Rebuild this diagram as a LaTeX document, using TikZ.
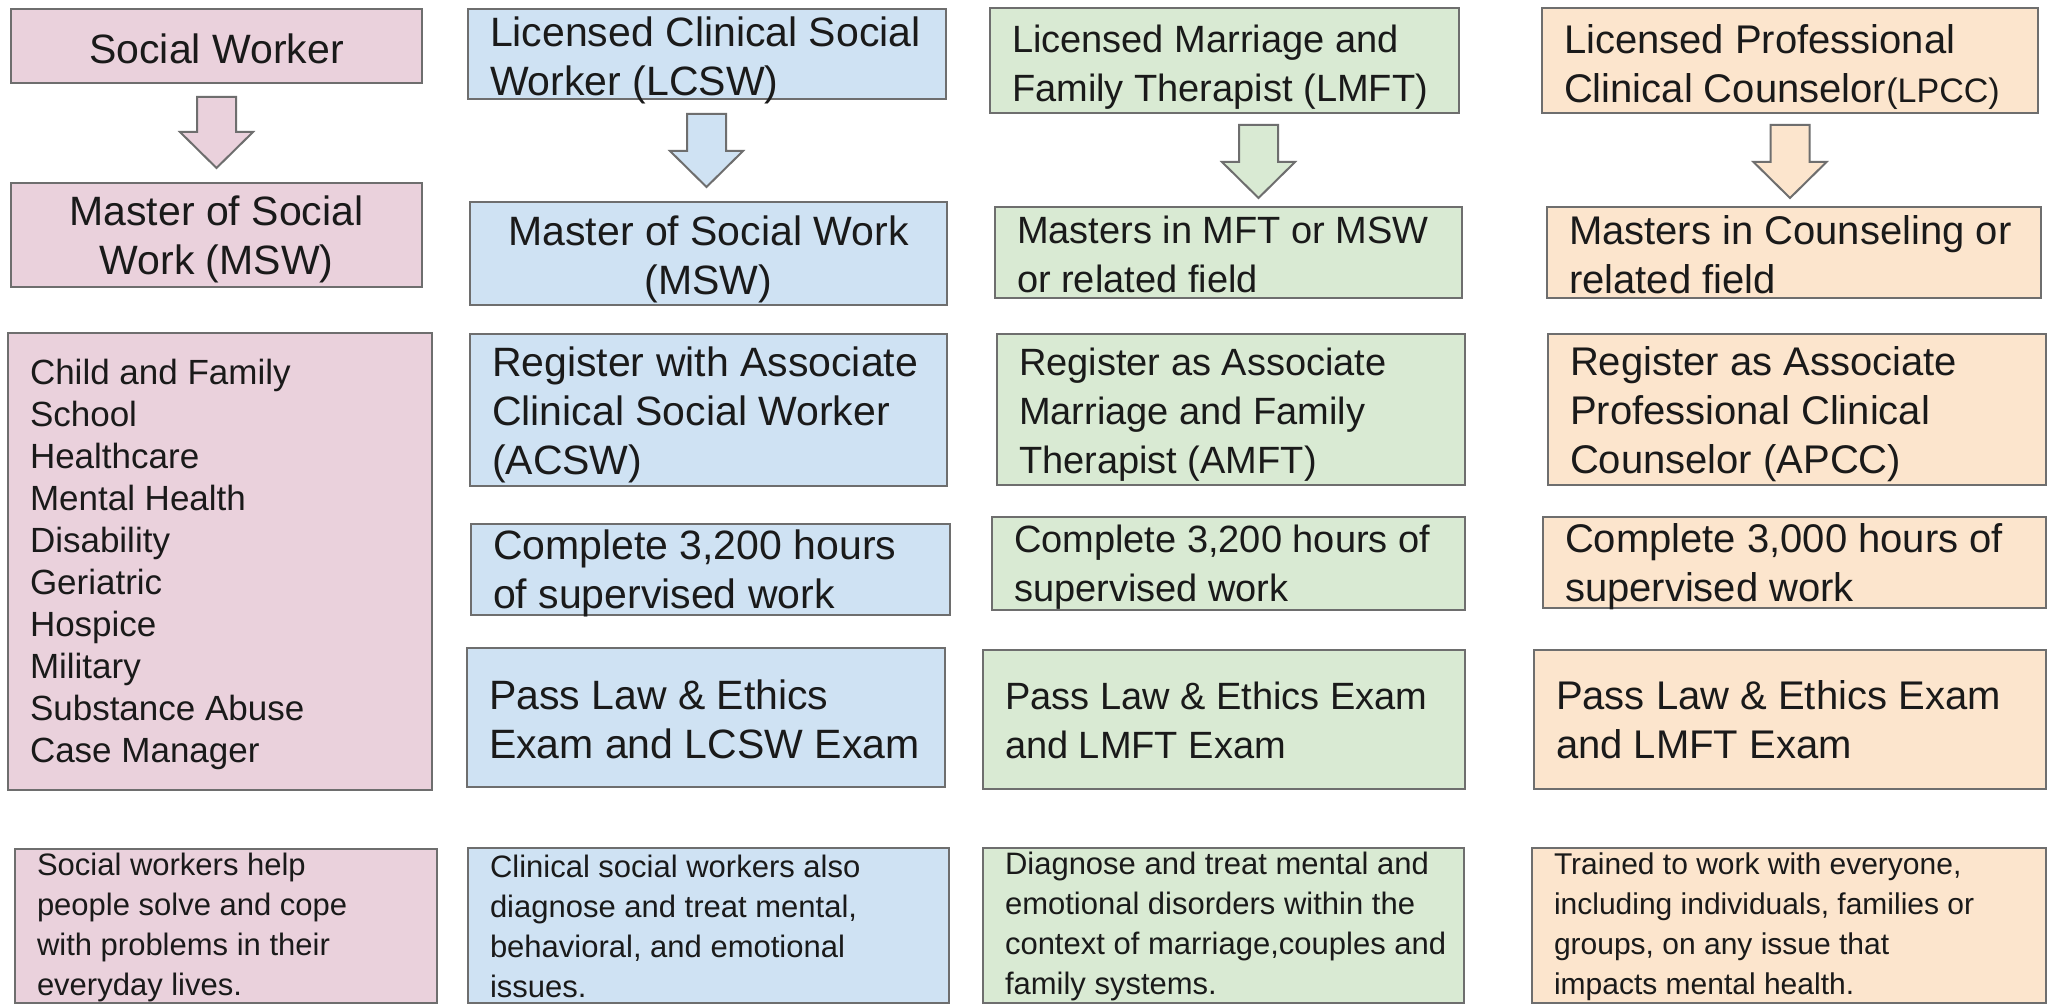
\documentclass[tikz,border=0pt]{standalone}
\usepackage{fontspec}
\setmainfont{Liberation Sans}
\usetikzlibrary{calc}
\newlength\upx \setlength\upx{0.5pt}
\definecolor{pinkfill}{HTML}{EAD1DC}
\definecolor{bluefill}{HTML}{CFE2F3}
\definecolor{greenfill}{HTML}{D9EAD3}
\definecolor{orangefill}{HTML}{FCE5CD}
\definecolor{bordergray}{HTML}{6E6E6E}
\definecolor{txt}{HTML}{1A1A1A}
% [#1 downward shift px] #2 width (px), #3 height (px), #4 text
\newcommand\lefttxt[4][5]{\vbox to #3\upx{\vskip#1\upx\vss\hbox to #2\upx{\vbox{\hsize=3000\upx\raggedright\leftskip=22\upx\parindent=0pt #4\par}\hss}\vss\vskip-#1\upx}}
\newcommand\centtxt[4][5]{\vbox to #3\upx{\vskip#1\upx\vss\hbox to #2\upx{\vbox{\hsize=#2\upx\centering\parindent=0pt #4\par}\hss}\vss\vskip-#1\upx}}
\newcommand\blockarrow[3]{%
  \draw[arrowshape,fill=#3] ($(#1)+(-19.5,0)$) -- ($(#1)+(19.5,0)$) -- ($(#2)+(19.5,-36)$) -- ($(#2)+(36.5,-36)$) -- (#2) -- ($(#2)+(-36.5,-36)$) -- ($(#2)+(-19.5,-36)$) -- cycle;}
\tikzset{
  box/.style={draw=bordergray, line width=1pt, inner sep=0pt, outer sep=0pt, anchor=north west, text=txt},
  arrowshape/.style={draw=bordergray, line width=1pt, line join=miter},
  pinkbox/.style={box, fill=pinkfill, font=\fontsize{20.5}{24.5}\selectfont},
  bluebox/.style={box, fill=bluefill, font=\fontsize{20.5}{24.5}\selectfont},
  greenbox/.style={box, fill=greenfill, font=\fontsize{19}{24.5}\selectfont},
  orangebox/.style={box, fill=orangefill, font=\fontsize{20}{24.5}\selectfont},
  listfont/.style={font=\fontsize{17.5}{21}\selectfont},
  descfont/.style={font=\fontsize{15.5}{20}\selectfont},
}
\begin{document}
\begin{tikzpicture}[x=0.5pt,y=-0.5pt]
\useasboundingbox[fill=white] (0,0) rectangle (2049,1005);

% ---------- Column 1: Social Worker ----------
\node[pinkbox] (p1) at (11,9) {\centtxt[3]{411}{74}{Social Worker}};
\node[pinkbox] (p2) at (11,183) {\centtxt[4]{411}{104}{Master of Social\\Work (MSW)}};
\node[pinkbox, listfont] (p3) at (8,333) {\lefttxt[3]{424}{457}{Child and Family\\School\\Healthcare\\Mental Health\\Disability\\Geriatric\\Hospice\\Military\\Substance Abuse\\Case Manager}};
\node[pinkbox, descfont] (p4) at (15,849) {\lefttxt[1]{422}{154}{Social workers help\\people solve and cope\\with problems in their\\everyday lives.}};

% ---------- Column 2: LCSW ----------
\node[bluebox] (b1) at (468,9) {\lefttxt[6]{478}{90}{Licensed Clinical Social\\Worker (LCSW)}};
\node[bluebox] (b2) at (470,202) {\centtxt[6]{477}{103}{Master of Social Work\\(MSW)}};
\node[bluebox] (b3) at (470,334) {\lefttxt[5]{477}{152}{Register with Associate\\Clinical Social Worker\\(ACSW)}};
\node[bluebox] (b4) at (471,524) {\lefttxt[4]{479}{91}{Complete 3,200 hours\\of supervised work}};
\node[bluebox] (b5) at (467,648) {\lefttxt[2]{478}{139}{Pass Law \& Ethics\\Exam and LCSW Exam}};
\node[bluebox, descfont] (b6) at (468,848) {\lefttxt[1]{481}{155}{Clinical social workers also\\diagnose and treat mental,\\behavioral, and emotional\\issues.}};

% ---------- Column 3: LMFT ----------
\node[greenbox] (g1) at (990,8) {\lefttxt[7]{469}{105}{Licensed Marriage and\\Family Therapist (LMFT)}};
\node[greenbox] (g2) at (995,207) {\lefttxt[2]{467}{91}{Masters in MFT or MSW\\or related field}};
\node[greenbox] (g3) at (997,334) {\lefttxt[5]{468}{151}{Register as Associate\\Marriage and Family\\Therapist (AMFT)}};
\node[greenbox] (g4) at (992,517) {\lefttxt[4]{473}{93}{Complete 3,200 hours of\\supervised work}};
\node[greenbox] (g5) at (983,650) {\lefttxt[1]{482}{139}{Pass Law \& Ethics Exam\\and LMFT Exam}};
\node[greenbox, descfont] (g6) at (983,848) {\lefttxt[1]{481}{155}{Diagnose and treat mental and\\emotional disorders within the\\context of marriage,couples and\\family systems.}};

% ---------- Column 4: LPCC ----------
\node[orangebox] (o1) at (1542,8) {\lefttxt[7]{496}{105}{Licensed Professional\\Clinical Counselor{\fontsize{17}{24.5}\selectfont(LPCC)}}};
\node[orangebox] (o2) at (1547,207) {\lefttxt[2]{494}{91}{Masters in Counseling or\\related field}};
\node[orangebox] (o3) at (1548,334) {\lefttxt[5]{498}{151}{Register as Associate\\Professional Clinical\\Counselor (APCC)}};
\node[orangebox] (o4) at (1543,517) {\lefttxt[4]{503}{91}{Complete 3,000 hours of\\supervised work}};
\node[orangebox] (o5) at (1534,650) {\lefttxt[0]{512}{139}{Pass Law \& Ethics Exam\\and LMFT Exam}};
\node[orangebox, font=\fontsize{15}{20}\selectfont] (o6) at (1532,848) {\lefttxt[1]{514}{155}{Trained to work with everyone,\\including individuals, families or\\groups, on any issue that\\impacts mental health.}};

% ---------- Block arrows ----------
\coordinate (pa0) at ($(p1.south)+(0,14)$);
\coordinate (pa1) at ($(pa0 |- p2.north)+(0,-15)$);
\coordinate (ba0) at ($(b1.south)+(-0.5,15)$);
\coordinate (ba1) at ($(ba0 |- b2.north)+(0,-15)$);
\coordinate (ga0) at ($(g1.south)+(34,12)$);
\coordinate (ga1) at ($(ga0 |- g2.north)+(0,-9)$);
\coordinate (oa0) at ($(o1.south)+(0,12)$);
\coordinate (oa1) at ($(oa0 |- o2.north)+(0,-9)$);
\blockarrow{pa0}{pa1}{pinkfill}
\blockarrow{ba0}{ba1}{bluefill}
\blockarrow{ga0}{ga1}{greenfill}
\blockarrow{oa0}{oa1}{orangefill}
\end{tikzpicture}
\end{document}
